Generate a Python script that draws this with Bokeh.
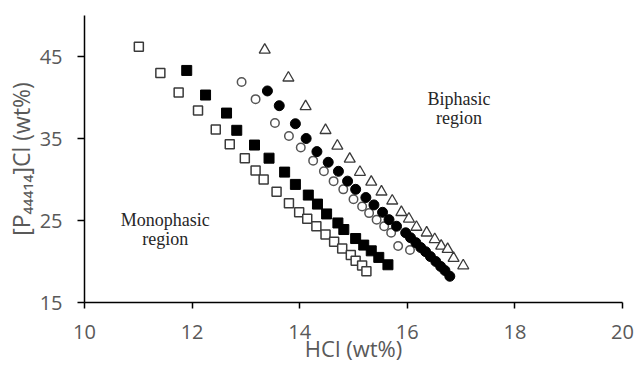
from bokeh.plotting import figure
from bokeh.models import ColumnDataSource, Range1d, FixedTicker
from bokeh.core.properties import value
from bokeh.embed import file_html
from bokeh.resources import INLINE

# ---- data ----
open_sq_x = [11.01, 11.41, 11.75, 12.11, 12.44, 12.70, 12.98, 13.18, 13.33, 13.57, 13.80,
             13.99, 14.14, 14.31, 14.48, 14.64, 14.79, 14.95, 15.04, 15.16, 15.24]
open_sq_y = [46.2, 43.0, 40.6, 38.4, 36.1, 34.3, 32.6, 31.1, 30.0, 28.5, 27.1,
             26.0, 25.2, 24.3, 23.3, 22.4, 21.6, 20.8, 20.1, 19.5, 18.8]

fill_sq_x = [11.90, 12.25, 12.64, 12.83, 13.16, 13.43, 13.72, 13.92, 14.16, 14.33, 14.50,
             14.71, 14.82, 15.04, 15.19, 15.33, 15.47, 15.64]
fill_sq_y = [43.3, 40.3, 38.1, 36.0, 34.2, 32.6, 30.9, 29.4, 28.1, 27.0, 25.8,
             24.7, 23.9, 22.8, 22.0, 21.3, 20.5, 19.6]

open_ci_x = [12.92, 13.18, 13.54, 13.80, 14.02, 14.25, 14.45, 14.63, 14.81, 15.00, 15.16,
             15.29, 15.43, 15.57, 15.70, 15.83, 16.05]
open_ci_y = [41.9, 39.8, 36.9, 35.3, 33.9, 32.3, 31.0, 29.8, 28.8, 27.6, 26.7,
             25.9, 25.1, 24.3, 23.5, 21.9, 21.4]

fill_ci_x = [13.40, 13.62, 13.92, 14.12, 14.32, 14.53, 14.72, 14.89, 15.04, 15.23, 15.38,
             15.54, 15.66, 15.80, 15.97, 16.06, 16.16, 16.25, 16.34, 16.43, 16.53,
             16.62, 16.70, 16.79]
fill_ci_y = [40.8, 39.0, 36.8, 35.0, 33.4, 32.1, 31.0, 29.8, 28.8, 27.8, 26.9,
             26.0, 25.1, 24.3, 23.5, 22.9, 22.3, 21.7, 21.2, 20.6, 20.0,
             19.4, 18.9, 18.2]

tri_x = [13.35, 13.79, 14.11, 14.48, 14.70, 14.93, 15.12, 15.33, 15.52, 15.72, 15.89,
         16.03, 16.17, 16.36, 16.51, 16.63, 16.75, 16.86, 17.04]
tri_y = [45.8, 42.4, 38.9, 36.0, 34.1, 32.5, 30.9, 29.7, 28.5, 27.4, 26.0,
         25.2, 24.2, 23.5, 22.7, 21.9, 21.5, 20.4, 19.5]

x_ticks = [10, 12, 14, 16, 18, 20]
y_ticks = [15, 25, 35, 45]

region_labels = ["Monophasic\nregion", "Biphasic\nregion"]
region_x = [11.5, 16.96]
region_y = [23.95, 38.6]

x_title = "HCl (wt%)"
y_title = "[P\u2084\u2084\u2084\u2081\u2084]Cl (wt%)"

# ---- figure ----
p = figure(width=636, height=365, output_backend="svg", toolbar_location=None,
           x_range=Range1d(10, 20), y_range=Range1d(15, 50),
           min_border_left=84, min_border_right=14, min_border_top=15, min_border_bottom=61)
p.outline_line_color = None
p.xgrid.grid_line_color = None
p.ygrid.grid_line_color = None
p.background_fill_color = "white"
p.border_fill_color = "white"

for ax in (p.xaxis[0], p.yaxis[0]):
    ax.axis_line_color = "black"
    ax.axis_line_width = 1.5
    ax.major_tick_line_color = "black"
    ax.major_tick_line_width = 1.5
    ax.major_tick_in = 0
    ax.minor_tick_line_color = None
    ax.major_label_text_font = "Open Sans"
    ax.major_label_text_font_size = "20px"
    ax.major_label_text_color = "#595959"
    ax.axis_label_text_font = "Open Sans"
    ax.axis_label_text_font_style = "normal"
    ax.axis_label_text_color = "#595959"

p.xaxis.ticker = FixedTicker(ticks=x_ticks)
p.yaxis.ticker = FixedTicker(ticks=y_ticks)
p.xaxis.major_tick_out = 6
p.yaxis.major_tick_out = 7
p.xaxis.major_label_standoff = 16
p.yaxis.major_label_standoff = 15
p.xaxis.axis_label = x_title
p.yaxis.axis_label = y_title
p.xaxis.axis_label_text_font_size = "22px"
p.yaxis.axis_label_text_font_size = "23px"
p.xaxis.axis_label_standoff = -9
p.yaxis.axis_label_standoff = 0

p.scatter(open_sq_x, open_sq_y, marker="square", size=9, fill_color="white",
          line_color="#3a3a3a", line_width=1.5)
p.scatter(fill_sq_x, fill_sq_y, marker="square", size=10, fill_color="black",
          line_color="black", line_width=1)
p.scatter(open_ci_x, open_ci_y, marker="circle", size=8.5, fill_color="white",
          line_color="#555555", line_width=1.5)
p.scatter(fill_ci_x, fill_ci_y, marker="circle", size=10, fill_color="black",
          line_color="black", line_width=1)
p.scatter(tri_x, tri_y, marker="triangle", size=11, fill_color="white",
          line_color="#3a3a3a", line_width=1.3)

src = ColumnDataSource(dict(x=region_x, y=region_y, t=region_labels))
p.text(x="x", y="y", text="t", source=src, text_font=value("Liberation Serif"),
       text_font_size="18px", text_color="#262626", text_align="center",
       text_baseline="middle", text_line_height=0.95)

open("out.html", "w").write(file_html(p, INLINE))
